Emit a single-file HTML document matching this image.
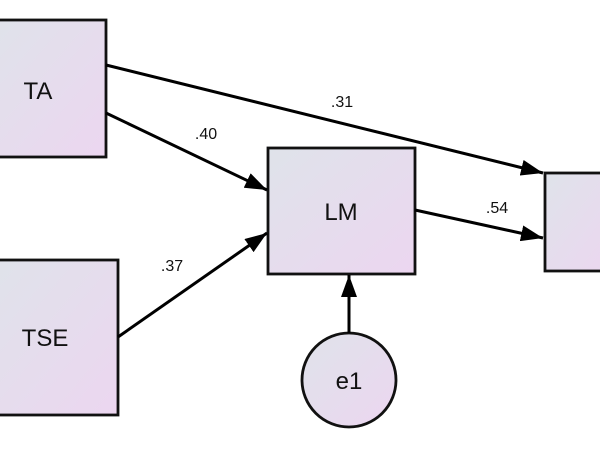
<!DOCTYPE html>
<html><head><style>html,body{margin:0;padding:0;background:#fff;}</style></head>
<body>
<svg width="600" height="450" viewBox="0 0 600 450" xmlns="http://www.w3.org/2000/svg" font-family="Liberation Sans, Arial, sans-serif">
<defs>
<linearGradient id="g" x1="0" y1="0" x2="1" y2="1">
<stop offset="0" stop-color="#dfe3ea"/><stop offset="1" stop-color="#ecd6f0"/>
</linearGradient>
<marker id="ah" viewBox="0 0 22 16" refX="22" refY="8" markerWidth="22" markerHeight="16" orient="auto" markerUnits="userSpaceOnUse">
<path d="M0,0 L22,8 L0,16 z" fill="#000"/>
</marker>
</defs>
<g stroke="#111" stroke-width="2.8" fill="url(#g)">
<rect x="-10" y="20" width="116" height="137"/>
<rect x="-10" y="260" width="128" height="155"/>
<rect x="268" y="148" width="147" height="126"/>
<rect x="545" y="173" width="70" height="98"/>
<ellipse cx="349" cy="380" rx="47" ry="47"/>
</g>
<g stroke="#000" stroke-width="3" fill="none" marker-end="url(#ah)">
<line x1="106" y1="65" x2="543" y2="173"/>
<line x1="106" y1="113" x2="267" y2="190"/>
<line x1="118" y1="337" x2="267" y2="233"/>
<line x1="415" y1="210" x2="543" y2="238"/>
<line x1="349" y1="333" x2="349" y2="275"/>
</g>
<g font-size="24" fill="#111" text-anchor="middle">
<text x="38" y="99">TA</text>
<text x="45" y="346">TSE</text>
<text x="341" y="220">LM</text>
<text x="349" y="389">e1</text>
</g>
<g font-size="16" fill="#111" text-anchor="middle">
<text x="342" y="107">.31</text>
<text x="206" y="139">.40</text>
<text x="172" y="271">.37</text>
<text x="497" y="213">.54</text>
</g>
</svg>
</body></html>
